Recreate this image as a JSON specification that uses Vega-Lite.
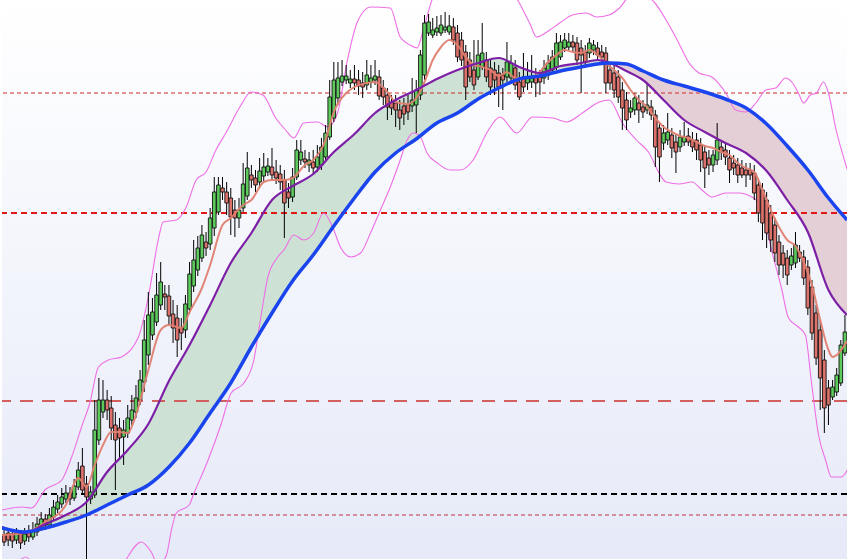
{
"$schema": "https://vega.github.io/schema/vega-lite/v6.json",
"width": 849, "height": 559,
"autosize": {"type": "fit", "contains": "padding"},
"padding": 0,
"background": "#ffffff",
"config": {"view": {"stroke": null, "fill": {"gradient": "linear", "x1": 0, "y1": 0, "x2": 0, "y2": 1, "stops": [{"offset": 0, "color": "#ffffff"}, {"offset": 1, "color": "#e6eaf8"}]}}},
"datasets": {
"candles": [
{"i":0,"o":25,"h":30,"l":14,"c":18},{"i":1,"o":27,"h":32,"l":14,"c":20},{"i":2,"o":26,"h":30,"l":12,"c":19},{"i":3,"o":20,"h":32,"l":16,"c":27},{"i":4,"o":27,"h":30,"l":11,"c":17},
{"i":5,"o":19,"h":32,"l":15,"c":26},{"i":6,"o":28,"h":35,"l":18,"c":23},{"i":7,"o":23,"h":38,"l":20,"c":30},{"i":8,"o":28,"h":43,"l":24,"c":36},{"i":9,"o":33,"h":48,"l":29,"c":41},
{"i":10,"o":41,"h":46,"l":30,"c":35},{"i":11,"o":35,"h":52,"l":32,"c":45},{"i":12,"o":43,"h":60,"l":39,"c":53},{"i":13,"o":51,"h":65,"l":47,"c":58},{"i":14,"o":56,"h":72,"l":52,"c":63},
{"i":15,"o":61,"h":75,"l":57,"c":67},{"i":16,"o":67,"h":73,"l":55,"c":61},{"i":17,"o":62,"h":81,"l":59,"c":74},{"i":18,"o":73,"h":98,"l":70,"c":90},{"i":19,"o":94,"h":112,"l":65,"c":70},
{"i":20,"o":76,"h":84,"l":1,"c":63},{"i":21,"o":61,"h":74,"l":56,"c":68},{"i":22,"o":65,"h":160,"l":62,"c":130},{"i":23,"o":120,"h":182,"l":115,"c":160},{"i":24,"o":148,"h":180,"l":142,"c":160},
{"i":25,"o":160,"h":170,"l":140,"c":150},{"i":26,"o":152,"h":164,"l":120,"c":132},{"i":27,"o":135,"h":148,"l":70,"c":120},{"i":28,"o":132,"h":142,"l":100,"c":122},{"i":29,"o":123,"h":140,"l":95,"c":130},
{"i":30,"o":127,"h":155,"l":122,"c":142},{"i":31,"o":140,"h":165,"l":135,"c":150},{"i":32,"o":148,"h":175,"l":142,"c":162},{"i":33,"o":160,"h":190,"l":155,"c":180},{"i":34,"o":178,"h":240,"l":168,"c":220},
{"i":35,"o":205,"h":268,"l":195,"c":245},{"i":36,"o":225,"h":262,"l":220,"c":248},{"i":37,"o":238,"h":287,"l":234,"c":265},{"i":38,"o":255,"h":298,"l":250,"c":278},{"i":39,"o":266,"h":275,"l":250,"c":263},
{"i":40,"o":264,"h":275,"l":235,"c":244},{"i":41,"o":246,"h":260,"l":217,"c":232},{"i":42,"o":242,"h":255,"l":203,"c":220},{"i":43,"o":232,"h":242,"l":210,"c":227},{"i":44,"o":230,"h":265,"l":222,"c":256},
{"i":45,"o":251,"h":298,"l":246,"c":286},{"i":46,"o":274,"h":320,"l":268,"c":300},{"i":47,"o":290,"h":324,"l":284,"c":312},{"i":48,"o":302,"h":335,"l":298,"c":325},{"i":49,"o":318,"h":328,"l":304,"c":312},
{"i":50,"o":316,"h":352,"l":310,"c":342},{"i":51,"o":332,"h":383,"l":324,"c":368},{"i":52,"o":348,"h":383,"l":345,"c":375},{"i":53,"o":372,"h":383,"l":360,"c":368},{"i":54,"o":368,"h":378,"l":345,"c":357},
{"i":55,"o":362,"h":372,"l":325,"c":343},{"i":56,"o":350,"h":360,"l":323,"c":342},{"i":57,"o":342,"h":362,"l":332,"c":350},{"i":58,"o":352,"h":397,"l":348,"c":376},{"i":59,"o":364,"h":408,"l":360,"c":392},
{"i":60,"o":385,"h":395,"l":372,"c":380},{"i":61,"o":382,"h":390,"l":368,"c":375},{"i":62,"o":378,"h":402,"l":372,"c":389},{"i":63,"o":384,"h":407,"l":378,"c":393},{"i":64,"o":388,"h":402,"l":384,"c":394},
{"i":65,"o":393,"h":412,"l":380,"c":385},{"i":66,"o":388,"h":400,"l":376,"c":382},{"i":67,"o":386,"h":395,"l":370,"c":378},{"i":68,"o":380,"h":390,"l":322,"c":357},{"i":69,"o":368,"h":377,"l":352,"c":362},
{"i":70,"o":363,"h":392,"l":358,"c":383},{"i":71,"o":383,"h":420,"l":380,"c":410},{"i":72,"o":400,"h":420,"l":395,"c":408},{"i":73,"o":401,"h":410,"l":392,"c":398},{"i":74,"o":395,"h":408,"l":388,"c":400},
{"i":75,"o":398,"h":410,"l":385,"c":392},{"i":76,"o":393,"h":415,"l":388,"c":403},{"i":77,"o":395,"h":422,"l":390,"c":413},{"i":78,"o":403,"h":435,"l":398,"c":427},{"i":79,"o":423,"h":480,"l":420,"c":463},
{"i":80,"o":442,"h":498,"l":438,"c":480},{"i":81,"o":462,"h":498,"l":455,"c":482},{"i":82,"o":478,"h":500,"l":474,"c":484},{"i":83,"o":480,"h":495,"l":476,"c":484},{"i":84,"o":477,"h":490,"l":472,"c":481},
{"i":85,"o":481,"h":495,"l":470,"c":477},{"i":86,"o":480,"h":490,"l":465,"c":474},{"i":87,"o":477,"h":488,"l":462,"c":473},{"i":88,"o":475,"h":500,"l":470,"c":485},{"i":89,"o":478,"h":495,"l":472,"c":482},
{"i":90,"o":480,"h":500,"l":475,"c":484},{"i":91,"o":483,"h":490,"l":460,"c":464},{"i":92,"o":472,"h":480,"l":455,"c":463},{"i":93,"o":465,"h":472,"l":440,"c":453},{"i":94,"o":458,"h":465,"l":445,"c":452},
{"i":95,"o":457,"h":465,"l":433,"c":450},{"i":96,"o":450,"h":460,"l":430,"c":442},{"i":97,"o":454,"h":462,"l":435,"c":446},{"i":98,"o":456,"h":465,"l":440,"c":448},{"i":99,"o":454,"h":482,"l":448,"c":460},
{"i":100,"o":455,"h":480,"l":427,"c":470},{"i":101,"o":465,"h":510,"l":460,"c":505},{"i":102,"o":485,"h":545,"l":480,"c":537},{"i":103,"o":527,"h":546,"l":524,"c":538},{"i":104,"o":525,"h":542,"l":522,"c":530},
{"i":105,"o":528,"h":544,"l":524,"c":532},{"i":106,"o":527,"h":545,"l":524,"c":535},{"i":107,"o":530,"h":548,"l":527,"c":533},{"i":108,"o":528,"h":545,"l":525,"c":534},{"i":109,"o":533,"h":542,"l":515,"c":520},
{"i":110,"o":527,"h":535,"l":498,"c":503},{"i":111,"o":520,"h":528,"l":494,"c":500},{"i":112,"o":508,"h":515,"l":460,"c":473},{"i":113,"o":500,"h":508,"l":478,"c":483},{"i":114,"o":490,"h":520,"l":470,"c":475},
{"i":115,"o":483,"h":520,"l":480,"c":505},{"i":116,"o":493,"h":537,"l":490,"c":507},{"i":117,"o":500,"h":508,"l":478,"c":483},{"i":118,"o":492,"h":500,"l":465,"c":473},{"i":119,"o":490,"h":498,"l":465,"c":480},
{"i":120,"o":487,"h":495,"l":453,"c":473},{"i":121,"o":485,"h":492,"l":450,"c":480},{"i":122,"o":483,"h":518,"l":478,"c":498},{"i":123,"o":482,"h":505,"l":478,"c":497},{"i":124,"o":492,"h":500,"l":470,"c":475},
{"i":125,"o":478,"h":488,"l":460,"c":463},{"i":126,"o":483,"h":507,"l":468,"c":473},{"i":127,"o":477,"h":498,"l":470,"c":483},{"i":128,"o":478,"h":505,"l":472,"c":482},{"i":129,"o":483,"h":492,"l":463,"c":477},
{"i":130,"o":483,"h":490,"l":465,"c":478},{"i":131,"o":482,"h":500,"l":476,"c":492},{"i":132,"o":485,"h":505,"l":480,"c":497},{"i":133,"o":490,"h":510,"l":486,"c":503},{"i":134,"o":493,"h":527,"l":490,"c":517},
{"i":135,"o":503,"h":525,"l":500,"c":518},{"i":136,"o":512,"h":527,"l":508,"c":520},{"i":137,"o":513,"h":527,"l":510,"c":518},{"i":138,"o":518,"h":525,"l":508,"c":513},{"i":139,"o":517,"h":523,"l":495,"c":500},
{"i":140,"o":512,"h":520,"l":467,"c":505},{"i":141,"o":508,"h":515,"l":492,"c":498},{"i":142,"o":507,"h":522,"l":502,"c":517},{"i":143,"o":510,"h":520,"l":505,"c":515},{"i":144,"o":512,"h":518,"l":500,"c":505},
{"i":145,"o":508,"h":515,"l":498,"c":503},{"i":146,"o":507,"h":513,"l":467,"c":477},{"i":147,"o":490,"h":498,"l":470,"c":477},{"i":148,"o":487,"h":495,"l":462,"c":470},{"i":149,"o":483,"h":490,"l":457,"c":463},
{"i":150,"o":470,"h":478,"l":430,"c":452},{"i":151,"o":460,"h":468,"l":430,"c":440},{"i":152,"o":448,"h":460,"l":442,"c":452},{"i":153,"o":450,"h":467,"l":445,"c":462},{"i":154,"o":457,"h":465,"l":437,"c":450},
{"i":155,"o":453,"h":460,"l":442,"c":448},{"i":156,"o":450,"h":477,"l":446,"c":455},{"i":157,"o":453,"h":460,"l":440,"c":445},{"i":158,"o":445,"h":450,"l":393,"c":413},{"i":159,"o":432,"h":438,"l":378,"c":403},
{"i":160,"o":417,"h":435,"l":410,"c":427},{"i":161,"o":420,"h":447,"l":415,"c":428},{"i":162,"o":425,"h":432,"l":402,"c":412},{"i":163,"o":418,"h":425,"l":387,"c":408},{"i":164,"o":413,"h":430,"l":408,"c":423},
{"i":165,"o":418,"h":438,"l":414,"c":423},{"i":166,"o":424,"h":432,"l":414,"c":418},{"i":167,"o":420,"h":428,"l":408,"c":413},{"i":168,"o":420,"h":427,"l":400,"c":410},{"i":169,"o":415,"h":422,"l":388,"c":400},
{"i":170,"o":408,"h":415,"l":372,"c":392},{"i":171,"o":402,"h":410,"l":385,"c":395},{"i":172,"o":395,"h":410,"l":388,"c":405},{"i":173,"o":400,"h":437,"l":395,"c":420},{"i":174,"o":413,"h":420,"l":400,"c":408},
{"i":175,"o":410,"h":417,"l":395,"c":403},{"i":176,"o":402,"h":410,"l":377,"c":390},{"i":177,"o":397,"h":405,"l":385,"c":392},{"i":178,"o":395,"h":402,"l":377,"c":385},{"i":179,"o":392,"h":400,"l":382,"c":385},
{"i":180,"o":390,"h":397,"l":373,"c":385},{"i":181,"o":390,"h":397,"l":380,"c":385},{"i":182,"o":387,"h":395,"l":360,"c":367},{"i":183,"o":375,"h":380,"l":338,"c":347},{"i":184,"o":370,"h":377,"l":320,"c":337},
{"i":185,"o":360,"h":368,"l":312,"c":327},{"i":186,"o":347,"h":355,"l":308,"c":320},{"i":187,"o":335,"h":342,"l":298,"c":307},{"i":188,"o":318,"h":325,"l":285,"c":295},{"i":189,"o":307,"h":315,"l":282,"c":295},
{"i":190,"o":302,"h":310,"l":275,"c":285},{"i":191,"o":295,"h":312,"l":290,"c":304},{"i":192,"o":297,"h":328,"l":292,"c":315},{"i":193,"o":308,"h":315,"l":298,"c":302},{"i":194,"o":303,"h":310,"l":275,"c":282},
{"i":195,"o":293,"h":300,"l":245,"c":252},{"i":196,"o":273,"h":280,"l":220,"c":227},{"i":197,"o":247,"h":255,"l":195,"c":202},{"i":198,"o":230,"h":240,"l":150,"c":182},{"i":199,"o":200,"h":210,"l":127,"c":152},
{"i":200,"o":172,"h":180,"l":135,"c":155},{"i":201,"o":163,"h":180,"l":160,"c":173},{"i":202,"o":168,"h":192,"l":164,"c":185},{"i":203,"o":177,"h":220,"l":174,"c":215},{"i":204,"o":207,"h":245,"l":204,"c":228}
],
"ma": [
{"i":-0.5,"mid":33,"long":32},{"i":5,"mid":27,"long":28},{"i":10,"mid":36,"long":32},{"i":15,"mid":45,"long":38},{"i":20,"mid":58,"long":45},
{"i":25,"mid":88,"long":55},{"i":30,"mid":110,"long":65},{"i":35,"mid":136,"long":75},{"i":40,"mid":179,"long":93},{"i":45,"mid":215,"long":117},
{"i":50,"mid":255,"long":147},{"i":55,"mid":297,"long":177},{"i":60,"mid":327,"long":213},{"i":65,"mid":360,"long":247},{"i":70,"mid":374,"long":279},
{"i":75,"mid":386,"long":305},{"i":80,"mid":408,"long":334},{"i":85,"mid":426,"long":362},{"i":90,"mid":447,"long":388},{"i":95,"mid":460,"long":407},
{"i":100,"mid":470,"long":421},{"i":105,"mid":481,"long":437},{"i":110,"mid":490,"long":447},{"i":115,"mid":497,"long":461},{"i":120,"mid":502,"long":472},
{"i":125,"mid":493,"long":481},{"i":130,"mid":487,"long":484},{"i":135,"mid":494,"long":489},{"i":140,"mid":497,"long":493},{"i":144,"mid":500,"long":496},
{"i":147,"mid":497,"long":497},{"i":151,"mid":489,"long":496},{"i":155,"mid":480,"long":489},{"i":160,"mid":460,"long":480},{"i":165,"mid":440,"long":474},{"i":170,"mid":428,"long":468},
{"i":175,"mid":417,"long":461},{"i":180,"mid":407,"long":452},{"i":185,"mid":389,"long":436},{"i":190,"mid":360,"long":414},{"i":195,"mid":328,"long":390},
{"i":200,"mid":270,"long":362},{"i":204.5,"mid":245,"long":340}
],
"short": [
{"i":-0.5,"v":25},{"i":5,"v":27},{"i":10,"v":38},{"i":15,"v":55},{"i":18,"v":82},{"i":20,"v":73},{"i":22,"v":95},{"i":24,"v":115},{"i":26,"v":128},{"i":28,"v":128},
{"i":30,"v":127},{"i":32,"v":145},{"i":35,"v":190},{"i":38,"v":230},{"i":40,"v":235},{"i":43,"v":232},{"i":45,"v":248},{"i":48,"v":272},{"i":50,"v":295},{"i":53,"v":335},
{"i":55,"v":342},{"i":58,"v":355},{"i":60,"v":360},{"i":63,"v":378},{"i":65,"v":380},{"i":68,"v":380},{"i":70,"v":382},{"i":73,"v":395},{"i":75,"v":400},{"i":78,"v":420},
{"i":80,"v":448},{"i":83,"v":467},{"i":85,"v":473},{"i":88,"v":477},{"i":90,"v":478},{"i":93,"v":468},{"i":95,"v":458},{"i":98,"v":456},{"i":100,"v":462},{"i":102,"v":478},
{"i":104,"v":500},{"i":106,"v":513},{"i":108,"v":520},{"i":110,"v":515},{"i":112,"v":503},{"i":114,"v":495},{"i":116,"v":493},{"i":118,"v":490},{"i":120,"v":484},{"i":122,"v":488},
{"i":124,"v":482},{"i":126,"v":482},{"i":128,"v":483},{"i":130,"v":488},{"i":132,"v":498},{"i":134,"v":505},{"i":136,"v":510},{"i":138,"v":508},{"i":140,"v":507},{"i":142,"v":510},
{"i":144,"v":505},{"i":146,"v":497},{"i":148,"v":490},{"i":150,"v":482},{"i":152,"v":470},{"i":154,"v":460},{"i":156,"v":453},{"i":158,"v":442},{"i":160,"v":433},{"i":162,"v":428},
{"i":164,"v":424},{"i":166,"v":422},{"i":168,"v":418},{"i":170,"v":414},{"i":172,"v":412},{"i":174,"v":408},{"i":176,"v":405},{"i":178,"v":397},{"i":180,"v":392},{"i":182,"v":388},
{"i":184,"v":370},{"i":186,"v":350},{"i":188,"v":333},{"i":190,"v":320},{"i":192,"v":314},{"i":194,"v":298},{"i":196,"v":275},{"i":198,"v":240},{"i":200,"v":210},{"i":201,"v":203},
{"i":202,"v":205},{"i":204.5,"v":219}
],
"bbu": [
{"i":-0.5,"v":50},{"i":4.3,"v":53},{"i":6.7,"v":52},{"i":9.9,"v":70},{"i":14,"v":80},{"i":16.4,"v":103},{"i":18.8,"v":133},{"i":20.8,"v":157},{"i":22.9,"v":193},{"i":25.3,"v":200},
{"i":28.5,"v":203},{"i":32.6,"v":223},{"i":35,"v":263},{"i":37.4,"v":320},{"i":38.6,"v":338},{"i":41.8,"v":340},{"i":44.2,"v":353},{"i":46.6,"v":380},{"i":49,"v":388},{"i":51.4,"v":410},
{"i":53.8,"v":427},{"i":57.5,"v":455},{"i":59.9,"v":468},{"i":62.8,"v":465},{"i":65.9,"v":442},{"i":68.3,"v":430},{"i":70.3,"v":422},{"i":72.7,"v":437},{"i":76.1,"v":438},{"i":78.5,"v":433},
{"i":80.9,"v":447},{"i":83.3,"v":500},{"i":85.7,"v":538},{"i":88.9,"v":553},{"i":93.7,"v":552},{"i":96.1,"v":523},{"i":98.5,"v":515},{"i":100.2,"v":512},{"i":101.7,"v":530},{"i":103.8,"v":560},
{"i":108.2,"v":585},{"i":115.4,"v":595},{"i":121.5,"v":580},{"i":124.6,"v":560},{"i":127.5,"v":537},{"i":129.2,"v":523},{"i":132.4,"v":530},{"i":134.8,"v":537},{"i":137.9,"v":545},{"i":141.3,"v":547},
{"i":143.7,"v":543},{"i":146.8,"v":545},{"i":149.3,"v":552},{"i":152.2,"v":565},{"i":155.3,"v":565},{"i":157.7,"v":558},{"i":160.9,"v":538},{"i":163.3,"v":520},{"i":166.2,"v":497},{"i":168.6,"v":487},
{"i":171.7,"v":483},{"i":175.1,"v":467},{"i":177.5,"v":450},{"i":179.9,"v":448},{"i":182.4,"v":457},{"i":184.8,"v":470},{"i":187.2,"v":472},{"i":189.6,"v":482},{"i":191.1,"v":478},{"i":192.7,"v":467},
{"i":194,"v":457},{"i":195.6,"v":465},{"i":197.1,"v":467},{"i":198.8,"v":478},{"i":200,"v":467},{"i":201.7,"v":433},{"i":204.6,"v":390}
],
"bbl": [
{"i":-0.5,"v":-10},{"i":3.1,"v":-2},{"i":5.3,"v":3},{"i":7.2,"v":-5},{"i":14,"v":-40},{"i":23.7,"v":-40},{"i":29.2,"v":-2},{"i":33.3,"v":18},{"i":35.7,"v":8},{"i":37.4,"v":-5},
{"i":39.4,"v":5},{"i":40.6,"v":30},{"i":41.8,"v":47},{"i":44.9,"v":55},{"i":46.1,"v":67},{"i":49.5,"v":100},{"i":52.6,"v":135},{"i":55.1,"v":167},{"i":58.2,"v":177},{"i":60.6,"v":200},
{"i":62.3,"v":243},{"i":64,"v":283},{"i":66.4,"v":303},{"i":67.9,"v":310},{"i":70.3,"v":325},{"i":72.7,"v":320},{"i":75.1,"v":327},{"i":77.5,"v":347},{"i":79.7,"v":333},{"i":81.6,"v":313},
{"i":84.1,"v":303},{"i":86.5,"v":307},{"i":88.9,"v":327},{"i":91.3,"v":350},{"i":93.7,"v":373},{"i":96.1,"v":400},{"i":97.8,"v":420},{"i":99.3,"v":427},{"i":101,"v":423},{"i":102.6,"v":407},
{"i":105.1,"v":397},{"i":108.2,"v":390},{"i":110.6,"v":390},{"i":113.8,"v":400},{"i":117.1,"v":427},{"i":120.3,"v":443},{"i":124.4,"v":427},{"i":128.2,"v":443},{"i":133.1,"v":442},{"i":136.5,"v":438},
{"i":140.3,"v":447},{"i":144.4,"v":458},{"i":146.8,"v":460},{"i":150,"v":437},{"i":153.4,"v":420},{"i":156.5,"v":407},{"i":158.9,"v":387},{"i":160.6,"v":378},{"i":163.8,"v":376},{"i":166.9,"v":378},
{"i":169.3,"v":370},{"i":171.7,"v":363},{"i":175.1,"v":367},{"i":178.2,"v":367},{"i":181.4,"v":363},{"i":183.1,"v":357},{"i":184.8,"v":335},{"i":186.2,"v":310},{"i":188.6,"v":272},{"i":190.3,"v":242},
{"i":192.7,"v":233},{"i":194.4,"v":225},{"i":195.9,"v":177},{"i":197.6,"v":125},{"i":199.3,"v":100},{"i":200.7,"v":83},{"i":203.1,"v":83},{"i":204.6,"v":90}
]
},
"layer": [
{"data": {"name": "ma"}, "transform": [{"filter": "datum.i <= 147"}], "mark": {"type": "area", "interpolate": "monotone", "color": "#cde2d5", "clip": true},
 "encoding": {"x": {"field": "i", "type": "quantitative", "scale": {"domain": [-0.5, 204.5], "nice": false, "zero": false, "padding": 0}, "axis": null},
  "y": {"field": "mid", "type": "quantitative", "scale": {"domain": [1, 560], "nice": false, "zero": false, "padding": 0}, "axis": null}, "y2": {"field": "long"}}},
{"data": {"name": "ma"}, "transform": [{"filter": "datum.i >= 147"}], "mark": {"type": "area", "interpolate": "monotone", "color": "#e4cfd6", "clip": true},
 "encoding": {"x": {"field": "i", "type": "quantitative"}, "y": {"field": "mid", "type": "quantitative"}, "y2": {"field": "long"}}},
{"data": {"values": [{"level": 467}]}, "mark": {"type": "rule", "color": "#cc2a2a", "strokeWidth": 1, "strokeDash": [4, 3]}, "encoding": {"y": {"field": "level", "type": "quantitative"}}},
{"data": {"values": [{"level": 347}]}, "mark": {"type": "rule", "color": "#e01818", "strokeWidth": 2.2, "strokeDash": [6, 4]}, "encoding": {"y": {"field": "level", "type": "quantitative"}}},
{"data": {"values": [{"level": 159}]}, "mark": {"type": "rule", "color": "#d45f5f", "strokeWidth": 2, "strokeDash": [13, 9]}, "encoding": {"y": {"field": "level", "type": "quantitative"}}},
{"data": {"values": [{"level": 66}]}, "mark": {"type": "rule", "color": "#000000", "strokeWidth": 2, "strokeDash": [6, 4]}, "encoding": {"y": {"field": "level", "type": "quantitative"}}},
{"data": {"values": [{"level": 45}]}, "mark": {"type": "rule", "color": "#c4304a", "strokeWidth": 1, "strokeDash": [4, 3]}, "encoding": {"y": {"field": "level", "type": "quantitative"}}},
{"data": {"name": "bbu"}, "mark": {"type": "line", "interpolate": "monotone", "color": "#ee6ee6", "strokeWidth": 1.1, "clip": true}, "encoding": {"x": {"field": "i", "type": "quantitative"}, "y": {"field": "v", "type": "quantitative"}}},
{"data": {"name": "bbl"}, "mark": {"type": "line", "interpolate": "monotone", "color": "#ee6ee6", "strokeWidth": 1.1, "clip": true}, "encoding": {"x": {"field": "i", "type": "quantitative"}, "y": {"field": "v", "type": "quantitative"}}},
{"data": {"name": "candles"}, "mark": {"type": "rule", "color": "#000000", "strokeWidth": 1, "clip": true}, "encoding": {"x": {"field": "i", "type": "quantitative"}, "y": {"field": "l", "type": "quantitative"}, "y2": {"field": "h"}}},
{"data": {"name": "candles"}, "mark": {"type": "bar", "size": 3.6, "stroke": "#111111", "strokeWidth": 0.9, "clip": true},
 "encoding": {"x": {"field": "i", "type": "quantitative"}, "y": {"field": "o", "type": "quantitative"}, "y2": {"field": "c"},
  "color": {"condition": {"test": "datum.c >= datum.o", "value": "#5ccb5c"}, "value": "#dc726b"}}},
{"data": {"name": "short"}, "mark": {"type": "line", "interpolate": "monotone", "color": "#df7f70", "strokeWidth": 2, "opacity": 0.95, "clip": true}, "encoding": {"x": {"field": "i", "type": "quantitative"}, "y": {"field": "v", "type": "quantitative"}}},
{"data": {"name": "ma"}, "mark": {"type": "line", "interpolate": "monotone", "color": "#7d1fa6", "strokeWidth": 2.2, "clip": true}, "encoding": {"x": {"field": "i", "type": "quantitative"}, "y": {"field": "mid", "type": "quantitative"}}},
{"data": {"name": "ma"}, "mark": {"type": "line", "interpolate": "monotone", "color": "#1a44ee", "strokeWidth": 3.5, "clip": true}, "encoding": {"x": {"field": "i", "type": "quantitative"}, "y": {"field": "long", "type": "quantitative"}}}
]
}
